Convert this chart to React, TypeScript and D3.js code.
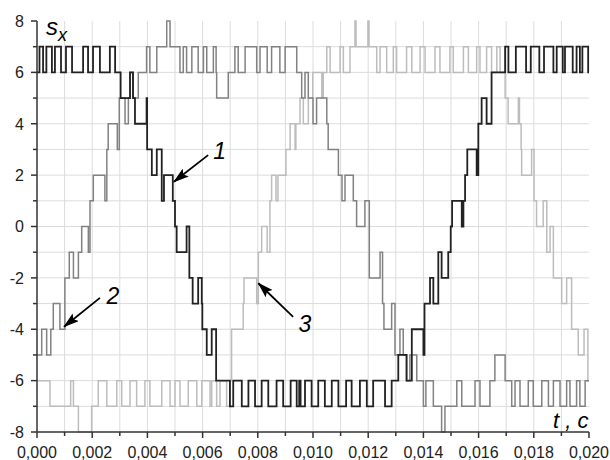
import React from "react";
import * as d3 from "d3";

// time in ms, value s_x (step after)
const series1: [number, number][] = [
  [0, 6], [0.09, 7], [0.22, 6], [0.34, 7], [0.54, 6], [0.65, 7], [0.87, 6], [1.05, 7], [1.27, 6],
  [1.67, 7], [1.85, 6], [2.03, 7], [2.28, 6], [2.64, 7], [2.83, 6], [3.03, 5], [3.37, 6], [3.48, 5],
  [3.55, 4], [3.97, 5], [3.99, 3], [4.16, 2], [4.34, 3], [4.52, 1], [4.6, 2], [4.92, 1], [5.0, 0],
  [5.06, -1], [5.42, 0], [5.52, -2], [5.64, -3], [5.84, -2], [5.97, -3], [5.99, -4], [6.15, -5],
  [6.33, -4], [6.49, -6], [6.99, -7], [7.11, -6], [7.42, -7], [7.66, -6], [7.9, -7], [8.14, -6],
  [8.38, -7], [8.68, -6], [8.92, -7], [9.19, -6], [9.41, -7], [9.5, -6], [9.55, -7], [9.71, -6],
  [9.95, -7], [10.19, -6], [10.43, -7], [10.68, -6], [10.92, -7], [11.2, -6], [11.4, -7], [11.7, -6],
  [11.95, -7], [12.18, -6], [12.61, -7], [12.85, -6], [13.09, -5], [13.39, -6], [13.58, -4],
  [14.0, -5], [14.04, -3], [14.24, -2], [14.36, -3], [14.54, -1], [14.66, -2], [14.9, -1], [14.99, 0],
  [15.04, 1], [15.39, 0], [15.45, 1], [15.51, 2], [15.59, 3], [15.93, 2], [15.99, 4], [16.11, 5],
  [16.29, 4], [16.47, 6], [16.96, 7], [17.08, 6], [17.35, 7], [17.72, 6], [17.89, 7], [18.2, 6],
  [18.37, 7], [18.71, 6], [18.83, 7], [19.05, 6], [19.13, 7], [19.41, 6], [19.55, 7], [19.67, 6],
  [19.76, 7], [19.97, 6], [20, 6],
];

const series2: [number, number][] = [
  [0, -5], [0.17, -4], [0.35, -5], [0.5, -4], [0.59, -3], [0.83, -4], [1.01, -2], [1.17, -1],
  [1.32, -2], [1.5, -1], [1.62, 0], [1.86, -1], [1.92, 1], [2.04, 2], [2.46, 1], [2.53, 3], [2.58, 4],
  [2.91, 3], [2.98, 5], [3.19, 4], [3.31, 5], [3.37, 6], [3.47, 5], [3.67, 6], [3.97, 7], [4.09, 6],
  [4.34, 7], [4.7, 8], [4.82, 7], [5.18, 6], [5.3, 7], [5.42, 6], [5.61, 7], [5.84, 6], [6.03, 7],
  [6.15, 6], [6.39, 7], [6.49, 6], [6.51, 5], [6.93, 6], [7.17, 7], [7.29, 6], [7.54, 7], [7.96, 6],
  [8.08, 7], [8.34, 6], [8.5, 7], [8.8, 6], [8.99, 7], [9.41, 6], [9.59, 5], [9.71, 6], [9.83, 5],
  [10.0, 4], [10.13, 5], [10.5, 4], [10.55, 3], [10.92, 2], [11.05, 1], [11.16, 2], [11.46, 1],
  [11.58, 0], [11.88, 1], [12.04, -2], [12.43, -1], [12.52, -3], [12.57, -4], [12.85, -3],
  [12.97, -5], [13.15, -4], [13.27, -5], [13.39, -6], [13.51, -5], [13.76, -6], [14.0, -7],
  [14.09, -6], [14.36, -7], [14.66, -8], [14.78, -7], [15.21, -6], [15.39, -7], [15.87, -6],
  [16.05, -7], [16.41, -6], [16.59, -5], [16.96, -6], [17.2, -7], [17.32, -6], [17.5, -7],
  [17.8, -6], [17.98, -7], [18.29, -6], [18.53, -7], [18.71, -6], [18.95, -7], [19.19, -6],
  [19.31, -7], [19.55, -6], [19.67, -7], [19.86, -6], [20, -6],
];

const series3: [number, number][] = [
  [0, -6], [0.47, -7], [1.22, -6], [1.32, -7], [1.5, -8], [1.98, -7], [2.22, -6], [2.53, -7],
  [2.89, -6], [3.07, -7], [3.37, -6], [3.61, -7], [3.91, -6], [4.09, -7], [4.52, -6], [4.82, -7],
  [5.0, -6], [5.18, -7], [5.48, -6], [5.79, -7], [5.97, -6], [6.27, -7], [6.33, -6], [6.51, -7],
  [6.63, -6], [6.87, -7], [6.99, -6], [7.05, -4], [7.47, -3], [7.5, -2], [7.96, -3], [8.02, -1],
  [8.14, 0], [8.34, -1], [8.44, 1], [8.5, 2], [8.66, 1], [8.73, 2], [9.02, 3], [9.17, 4], [9.35, 3],
  [9.38, 4], [9.53, 5], [9.65, 4], [9.83, 5], [9.99, 6], [10.32, 5], [10.37, 6], [10.5, 7],
  [10.62, 6], [10.98, 7], [11.1, 6], [11.34, 7], [11.52, 8], [11.56, 7], [11.99, 8], [12.03, 7],
  [12.31, 6], [12.43, 7], [12.67, 6], [12.91, 7], [13.03, 6], [13.39, 7], [13.58, 6], [13.88, 7],
  [14.06, 6], [14.42, 7], [14.6, 6], [14.96, 7], [15.08, 6], [15.45, 7], [15.63, 6], [15.93, 7],
  [16.05, 6], [16.29, 7], [16.47, 6], [16.66, 7], [16.78, 6], [16.96, 5], [17.07, 4], [17.44, 5],
  [17.48, 4], [17.54, 3], [17.56, 2], [17.92, 3], [18.01, 1], [18.1, 0], [18.34, 1], [18.47, -1],
  [18.59, 0], [18.71, -2], [19.01, -3], [19.19, -2], [19.37, -4], [19.61, -5], [19.82, -4],
  [19.96, -6], [20, -6],
];

const xMajor = [0, 2, 4, 6, 8, 10, 12, 14, 16, 18, 20];
const xLabels = ["0,000", "0,002", "0,004", "0,006", "0,008", "0,010", "0,012", "0,014", "0,016", "0,018", "0,020"];
const xMinor = [1, 3, 5, 7, 9, 11, 13, 15, 17, 19];
const yMajor = [-8, -6, -4, -2, 0, 2, 4, 6, 8];
const yLabels = ["-8", "-6", "-4", "-2", "0", "2", "4", "6", "8"];
const yMinor = [-7, -5, -3, -1, 1, 3, 5, 7];

// annotation arrows: [label, tipT, tipV, startT, startV, labelT, labelV]
const arrows: [string, number, number, number, number, number, number][] = [
  ["1", 4.96, 1.74, 6.2, 2.78, 6.62, 2.62],
  ["2", 0.98, -3.9, 2.28, -2.78, 2.75, -3.0],
  ["3", 8.02, -2.21, 9.28, -3.52, 9.71, -4.12],
];

const W = 610;
const H = 460;
const FONT = "'Liberation Sans', Arial, sans-serif";

export default function App() {
  const x = d3.scaleLinear().domain([0, 20]).range([37, 589]);
  const y = d3.scaleLinear().domain([-8, 8]).range([432, 21]);
  const line = d3
    .line<[number, number]>()
    .x((d) => x(d[0]))
    .y((d) => y(d[1]))
    .curve(d3.curveStepAfter);

  const gridX = d3.range(1, 20);
  const gridY = d3.range(-7, 8);

  return (
    <svg width={W} height={H} style={{ position: "absolute", left: 0, top: 0, background: "#fff" }}>
      <defs>
        <marker id="ah" viewBox="0 0 16 10" refX="15" refY="5" markerWidth="16" markerHeight="10"
          markerUnits="userSpaceOnUse" orient="auto">
          <path d="M0,0 L16,5 L0,10 L3,5 Z" fill="#000" />
        </marker>
      </defs>
      <g stroke="#dcdcdc" strokeWidth={1}>
        {gridX.map((t) => (
          <line key={"gx" + t} x1={x(t)} x2={x(t)} y1={y(8)} y2={y(-8)} />
        ))}
        {gridY.map((v) => (
          <line key={"gy" + v} x1={x(0)} x2={x(20)} y1={y(v)} y2={y(v)} />
        ))}
      </g>
      <path d={line(series3) || ""} fill="none" stroke="#bdbdbd" strokeWidth={1.5} />
      <path d={line(series2) || ""} fill="none" stroke="#828282" strokeWidth={1.5} />
      <path d={line(series1) || ""} fill="none" stroke="#222" strokeWidth={1.8} />

      <g stroke="#333" strokeWidth={1.5}>
        <line x1={x(0)} x2={x(0)} y1={y(8)} y2={y(-8)} />
        <line x1={x(0)} x2={x(20)} y1={y(-8)} y2={y(-8)} />
        {yMajor.map((v) => (
          <line key={"ym" + v} x1={x(0) - 6} x2={x(0)} y1={y(v)} y2={y(v)} />
        ))}
        {yMinor.map((v) => (
          <line key={"yn" + v} x1={x(0) - 4} x2={x(0)} y1={y(v)} y2={y(v)} />
        ))}
        {xMajor.map((t) => (
          <line key={"xm" + t} x1={x(t)} x2={x(t)} y1={y(-8)} y2={y(-8) + 6} />
        ))}
        {xMinor.map((t) => (
          <line key={"xn" + t} x1={x(t)} x2={x(t)} y1={y(-8)} y2={y(-8) + 4} />
        ))}
      </g>

      <g fontFamily={FONT} fontSize={16} fill="#222">
        {yMajor.map((v, i) => (
          <text key={"yl" + v} x={x(0) - 13} y={y(v)} dy="0.36em" textAnchor="end">
            {yLabels[i]}
          </text>
        ))}
        {xMajor.map((t, i) => (
          <text key={"xl" + t} x={x(t)} y={458} textAnchor="middle">
            {xLabels[i]}
          </text>
        ))}
      </g>

      <text x={46} y={35} fontFamily={FONT} fontStyle="italic" fontSize={24} fill="#000">
        s<tspan fontSize={18} dy={6}>x</tspan>
      </text>
      <text x={553} y={428} fontFamily={FONT} fontStyle="italic" fontSize={22} fill="#000">
        t , c
      </text>

      {arrows.map(([lab, tt, tv, st, sv, lt, lv]) => (
        <g key={"a" + lab}>
          <line x1={x(st)} y1={y(sv)} x2={x(tt)} y2={y(tv)} stroke="#000" strokeWidth={1.8} markerEnd="url(#ah)" />
          <text x={x(lt)} y={y(lv)} textAnchor="middle" fontFamily={FONT} fontStyle="italic" fontSize={23} fill="#000">
            {lab}
          </text>
        </g>
      ))}
    </svg>
  );
}
